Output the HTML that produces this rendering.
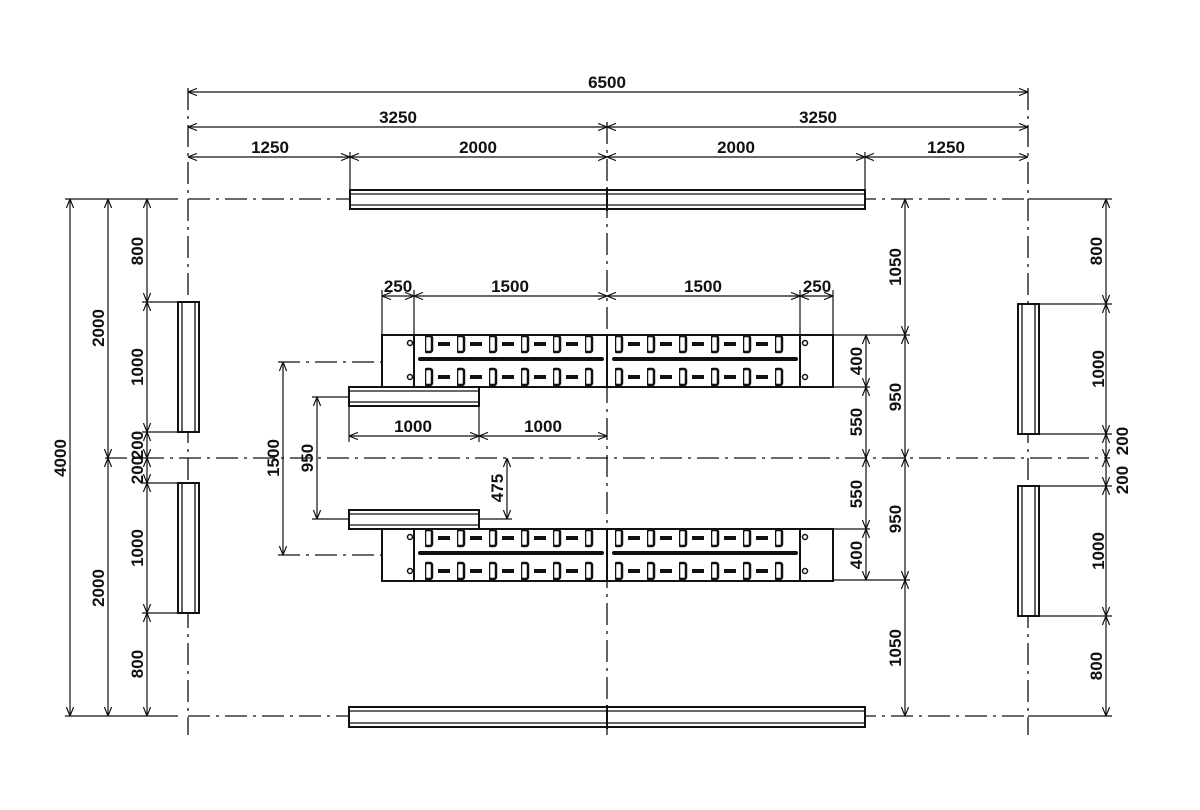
<!DOCTYPE html>
<html><head><meta charset="utf-8"><style>
body{margin:0;background:#fff}
svg{display:block}
text{font-family:"Liberation Sans",sans-serif;font-weight:bold;font-size:17px;fill:#111;text-anchor:middle}
</style></head><body>
<svg width="1200" height="810" viewBox="0 0 1200 810" xmlns="http://www.w3.org/2000/svg">
<defs>
<marker id="a" viewBox="0 0 10 10" refX="10" refY="5" markerWidth="9" markerHeight="9" orient="auto-start-reverse" markerUnits="userSpaceOnUse"><path d="M0,1 L10,5 L0,9" fill="none" stroke="#111" stroke-width="1.3"/></marker>
<pattern id="slotL" x="425" y="0" width="32" height="30" patternUnits="userSpaceOnUse">
<rect x="0" y="6" width="7" height="16" rx="2" fill="none" stroke="#111" stroke-width="2.5"/>
<rect x="13" y="12" width="12" height="4" fill="#111"/>
</pattern>
</defs>
<g stroke="#111" fill="none" stroke-width="1.2">
<g stroke-dasharray="22,6,3,6" stroke-width="1.3">
<line x1="188" y1="88" x2="188" y2="735"/>
<line x1="1028" y1="88" x2="1028" y2="735"/>
<line x1="607" y1="122" x2="607" y2="735"/>
<line x1="188" y1="199" x2="1028" y2="199"/>
<line x1="188" y1="716" x2="1028" y2="716"/>
<line x1="105" y1="458" x2="1110" y2="458"/>
<line x1="278" y1="362" x2="415" y2="362"/>
<line x1="278" y1="555" x2="415" y2="555"/>
</g>
<line x1="350" y1="152" x2="350" y2="190"/>
<line x1="865" y1="152" x2="865" y2="190"/>
<line x1="382" y1="290" x2="382" y2="335"/>
<line x1="414" y1="290" x2="414" y2="335"/>
<line x1="800" y1="290" x2="800" y2="335"/>
<line x1="833" y1="290" x2="833" y2="335"/>
<line x1="349" y1="406" x2="349" y2="442"/>
<line x1="479" y1="406" x2="479" y2="442"/>
<line x1="65" y1="199" x2="178" y2="199"/>
<line x1="65" y1="716" x2="178" y2="716"/>
<line x1="142" y1="302" x2="178" y2="302"/>
<line x1="142" y1="432" x2="178" y2="432"/>
<line x1="142" y1="483" x2="178" y2="483"/>
<line x1="142" y1="613" x2="178" y2="613"/>
<line x1="833" y1="335" x2="910" y2="335"/>
<line x1="833" y1="387" x2="870" y2="387"/>
<line x1="833" y1="529" x2="870" y2="529"/>
<line x1="833" y1="580" x2="910" y2="580"/>
<line x1="1039" y1="304" x2="1112" y2="304"/>
<line x1="1039" y1="434" x2="1112" y2="434"/>
<line x1="1039" y1="486" x2="1112" y2="486"/>
<line x1="1039" y1="616" x2="1112" y2="616"/>
<line x1="1028" y1="199" x2="1112" y2="199"/>
<line x1="1028" y1="716" x2="1112" y2="716"/>
<line x1="312" y1="397" x2="349" y2="397"/>
<line x1="312" y1="519" x2="349" y2="519"/>
<line x1="479" y1="519" x2="512" y2="519"/>
<g marker-start="url(#a)" marker-end="url(#a)">
<line x1="188" y1="92" x2="1028" y2="92"/>
<line x1="188" y1="127" x2="607" y2="127"/>
<line x1="607" y1="127" x2="1028" y2="127"/>
<line x1="188" y1="157" x2="350" y2="157"/>
<line x1="350" y1="157" x2="607" y2="157"/>
<line x1="607" y1="157" x2="865" y2="157"/>
<line x1="865" y1="157" x2="1028" y2="157"/>
<line x1="382" y1="296" x2="414" y2="296"/>
<line x1="414" y1="296" x2="607" y2="296"/>
<line x1="607" y1="296" x2="800" y2="296"/>
<line x1="800" y1="296" x2="833" y2="296"/>
<line x1="349" y1="436" x2="479" y2="436"/>
<line x1="479" y1="436" x2="607" y2="436"/>
<line x1="70" y1="199" x2="70" y2="716"/>
<line x1="108" y1="199" x2="108" y2="458"/>
<line x1="108" y1="458" x2="108" y2="716"/>
<line x1="147" y1="199" x2="147" y2="302"/>
<line x1="147" y1="302" x2="147" y2="432"/>
<line x1="147" y1="432" x2="147" y2="458"/>
<line x1="147" y1="458" x2="147" y2="483"/>
<line x1="147" y1="483" x2="147" y2="613"/>
<line x1="147" y1="613" x2="147" y2="716"/>
<line x1="283" y1="362" x2="283" y2="555"/>
<line x1="317" y1="397" x2="317" y2="519"/>
<line x1="507" y1="458" x2="507" y2="519"/>
<line x1="866" y1="335" x2="866" y2="387"/>
<line x1="866" y1="387" x2="866" y2="458"/>
<line x1="866" y1="458" x2="866" y2="529"/>
<line x1="866" y1="529" x2="866" y2="580"/>
<line x1="905" y1="199" x2="905" y2="335"/>
<line x1="905" y1="335" x2="905" y2="458"/>
<line x1="905" y1="458" x2="905" y2="580"/>
<line x1="905" y1="580" x2="905" y2="716"/>
<line x1="1106" y1="199" x2="1106" y2="304"/>
<line x1="1106" y1="304" x2="1106" y2="434"/>
<line x1="1106" y1="434" x2="1106" y2="458"/>
<line x1="1106" y1="458" x2="1106" y2="486"/>
<line x1="1106" y1="486" x2="1106" y2="616"/>
<line x1="1106" y1="616" x2="1106" y2="716"/>
</g>
</g>
<g stroke="#111" fill="#fff" stroke-width="2">
<rect x="350" y="190" width="515" height="19"/>
<rect x="349" y="707" width="516" height="20"/>
<rect x="349" y="387" width="130" height="19"/>
<rect x="349" y="510" width="130" height="19"/>
<rect x="178" y="302" width="21" height="130"/>
<rect x="178" y="483" width="21" height="130"/>
<rect x="1018" y="304" width="21" height="130"/>
<rect x="1018" y="486" width="21" height="130"/>
</g>
<g stroke="#111" stroke-width="1.3">
<line x1="350" y1="194" x2="865" y2="194"/><line x1="350" y1="205" x2="865" y2="205"/>
<line x1="349" y1="711" x2="865" y2="711"/><line x1="349" y1="723" x2="865" y2="723"/>
<line x1="349" y1="391" x2="479" y2="391"/><line x1="349" y1="402" x2="479" y2="402"/>
<line x1="349" y1="514" x2="479" y2="514"/><line x1="349" y1="525" x2="479" y2="525"/>
<line x1="182" y1="302" x2="182" y2="432"/><line x1="195" y1="302" x2="195" y2="432"/>
<line x1="182" y1="483" x2="182" y2="613"/><line x1="195" y1="483" x2="195" y2="613"/>
<line x1="1022" y1="304" x2="1022" y2="434"/><line x1="1035" y1="304" x2="1035" y2="434"/>
<line x1="1022" y1="486" x2="1022" y2="616"/><line x1="1035" y1="486" x2="1035" y2="616"/>
<line x1="607" y1="188" x2="607" y2="211" stroke-width="2"/>
<line x1="607" y1="705" x2="607" y2="729" stroke-width="2"/>
</g>
<g id="beam">
<rect x="382" y="335" width="451" height="52" fill="#fff" stroke="#111" stroke-width="2"/>
<line x1="414" y1="335" x2="414" y2="387" stroke="#111" stroke-width="2"/>
<line x1="800" y1="335" x2="800" y2="387" stroke="#111" stroke-width="2"/>
<line x1="607" y1="335" x2="607" y2="387" stroke="#111" stroke-width="2"/>
<rect x="421" y="335" width="174" height="26" fill="url(#slotL)"/>
<rect x="421" y="361" width="174" height="26" fill="url(#slotL)" transform="translate(0,3)"/>
<rect x="614" y="335" width="174" height="26" fill="url(#slotL)" transform="translate(-2,0)"/>
<rect x="614" y="361" width="174" height="26" fill="url(#slotL)" transform="translate(-2,3)"/>
<line x1="420" y1="359" x2="602" y2="359" stroke="#111" stroke-width="4" stroke-linecap="round"/>
<line x1="614" y1="359" x2="796" y2="359" stroke="#111" stroke-width="4" stroke-linecap="round"/>
<circle cx="410" cy="343" r="2.5" fill="none" stroke="#111" stroke-width="1.5"/>
<circle cx="410" cy="377" r="2.5" fill="none" stroke="#111" stroke-width="1.5"/>
<circle cx="805" cy="343" r="2.5" fill="none" stroke="#111" stroke-width="1.5"/>
<circle cx="805" cy="377" r="2.5" fill="none" stroke="#111" stroke-width="1.5"/>
</g>
<use href="#beam" transform="translate(0,194)"/>
<text x="607" y="88">6500</text>
<text x="398" y="123">3250</text>
<text x="818" y="123">3250</text>
<text x="270" y="153">1250</text>
<text x="478" y="153">2000</text>
<text x="736" y="153">2000</text>
<text x="946" y="153">1250</text>
<text x="398" y="292">250</text>
<text x="510" y="292">1500</text>
<text x="703" y="292">1500</text>
<text x="817" y="292">250</text>
<text x="413" y="432">1000</text>
<text x="543" y="432">1000</text>
<g>
<text transform="translate(66,458) rotate(-90)">4000</text>
<text transform="translate(104,328) rotate(-90)">2000</text>
<text transform="translate(104,588) rotate(-90)">2000</text>
<text transform="translate(143,251) rotate(-90)">800</text>
<text transform="translate(143,367) rotate(-90)">1000</text>
<text transform="translate(143,445) rotate(-90)">200</text>
<text transform="translate(143,470) rotate(-90)">200</text>
<text transform="translate(143,548) rotate(-90)">1000</text>
<text transform="translate(143,664) rotate(-90)">800</text>
<text transform="translate(279,458) rotate(-90)">1500</text>
<text transform="translate(313,458) rotate(-90)">950</text>
<text transform="translate(503,488) rotate(-90)">475</text>
<text transform="translate(862,361) rotate(-90)">400</text>
<text transform="translate(862,422) rotate(-90)">550</text>
<text transform="translate(862,494) rotate(-90)">550</text>
<text transform="translate(862,555) rotate(-90)">400</text>
<text transform="translate(901,267) rotate(-90)">1050</text>
<text transform="translate(901,397) rotate(-90)">950</text>
<text transform="translate(901,519) rotate(-90)">950</text>
<text transform="translate(901,648) rotate(-90)">1050</text>
<text transform="translate(1102,251) rotate(-90)">800</text>
<text transform="translate(1104,369) rotate(-90)">1000</text>
<text transform="translate(1128,441) rotate(-90)">200</text>
<text transform="translate(1128,480) rotate(-90)">200</text>
<text transform="translate(1104,551) rotate(-90)">1000</text>
<text transform="translate(1102,666) rotate(-90)">800</text>
</g>
</svg>
</body></html>
